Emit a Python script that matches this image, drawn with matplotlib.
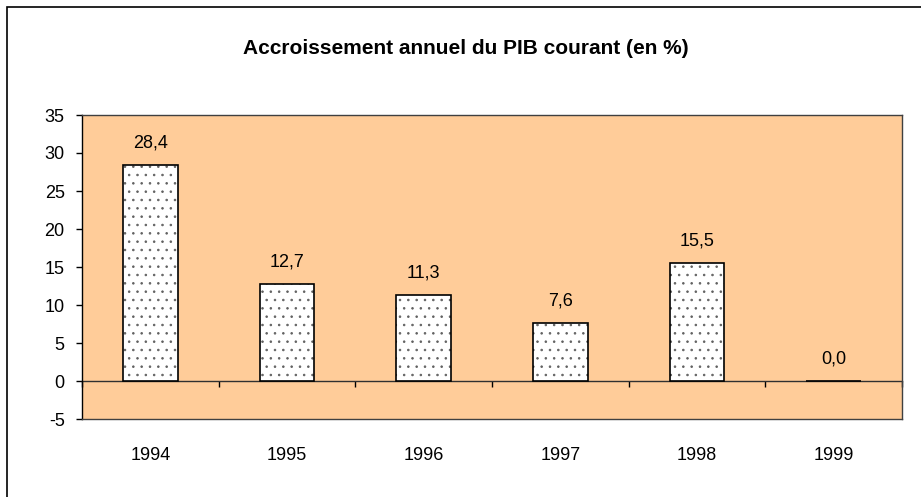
import matplotlib
matplotlib.use("Agg")
import matplotlib.pyplot as plt
from matplotlib.patches import Rectangle
import numpy as np

plt.rcParams['font.family'] = ['Liberation Sans', 'DejaVu Sans']
plt.rcParams['hatch.linewidth'] = 0.6

years = ["1994", "1995", "1996", "1997", "1998", "1999"]
values = [28.4, 12.7, 11.3, 7.6, 15.5, 0.0]
yticks = [-5, 0, 5, 10, 15, 20, 25, 30, 35]
title = "Accroissement annuel du PIB courant (en %)"

W, H = 921, 497
fig = plt.figure(figsize=(W / 100, H / 100), dpi=100)
fig.patch.set_facecolor('white')

# outer chart border (only left/top visible in the reference)
fig.add_artist(Rectangle((7 / W, -0.2), 1.5, 1.2 - 7 / H, transform=fig.transFigure,
                         fill=False, edgecolor='black', linewidth=1.2))

left, right, top, bottom = 82, 902, 115, 419
ax = fig.add_axes([left / W, 1 - bottom / H, (right - left) / W, (bottom - top) / H])
ax.set_facecolor('#FFCC99')

x = np.arange(len(years))
ymin, ymax = yticks[0], yticks[-1]
# hatched fill (grey dots)
ax.bar(x, values, width=0.4, color='white', edgecolor='#606060', linewidth=0,
       hatch='..', zorder=3)
# black outline
ax.bar(x, values, width=0.4, fill=False, edgecolor='black', linewidth=1.2, zorder=6)
ax.set_xlim(-0.5, len(years) - 0.5)
ax.set_ylim(ymin, ymax)

for xi, v in zip(x, values):
    ax.annotate(f"{v:.1f}".replace('.', ','), (xi, v), xytext=(0, 10),
                textcoords='offset points', ha='center', va='bottom', fontsize=13)

# y axis
ax.set_yticks(yticks)
ax.set_yticklabels([str(t) for t in yticks])
ax.tick_params(axis='y', direction='out', length=4.5, width=1, pad=8, labelsize=13,
               color='black')

# category labels below plot area
ax.set_xticks(x)
ax.set_xticklabels(years)
ax.tick_params(axis='x', length=0, pad=20, labelsize=13)

for s in ['top', 'right', 'bottom']:
    ax.spines[s].set_color('#404040')
    ax.spines[s].set_linewidth(1.0)
ax.spines['left'].set_color('black')
ax.spines['left'].set_linewidth(1.0)

# category axis at zero with boundary tick marks
sec = ax.secondary_xaxis((0 - ymin) / (ymax - ymin))
sec.set_xticks(np.arange(len(years) + 1) - 0.5)
sec.set_xticklabels([])
sec.tick_params(axis='x', direction='out', length=4.5, width=1, color='black')
sec.spines['bottom'].set_color('#303030')
sec.spines['bottom'].set_linewidth(1.0)
sec.set_zorder(2)

fig.text(466 / W, 1 - 48 / H, title, ha='center', va='center', fontsize=15,
         fontweight='bold')

fig.savefig('out.png', dpi=100)
